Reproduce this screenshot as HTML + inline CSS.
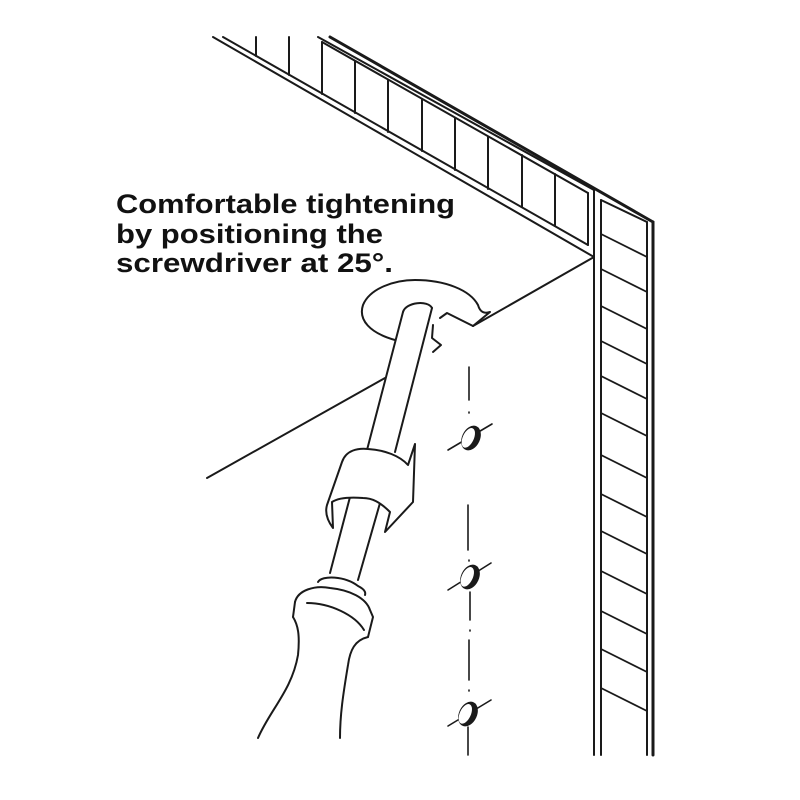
<!DOCTYPE html>
<html><head><style>body{margin:0;background:#fff}svg{display:block}</style></head>
<body>
<svg width="800" height="800" viewBox="0 0 800 800" xmlns="http://www.w3.org/2000/svg">
<rect width="800" height="800" fill="#fff"/>
<g fill="none" stroke="#1a1a1a" stroke-width="2" stroke-linejoin="round" stroke-linecap="round">
<line x1="330" y1="37" x2="653" y2="222" stroke-width="3"/>
<line x1="318" y1="37" x2="594" y2="190"/>
<line x1="223" y1="37" x2="588" y2="245"/>
<line x1="213" y1="37" x2="594" y2="257"/>
<line x1="322" y1="42" x2="588" y2="193"/>
<line x1="588" y1="193" x2="588" y2="245"/>
<line x1="256" y1="37" x2="256" y2="56"/>
<line x1="289" y1="37" x2="289" y2="75"/>
<line x1="322" y1="42" x2="322" y2="94"/>
<line x1="355" y1="61" x2="355" y2="113"/>
<line x1="388" y1="80" x2="388" y2="132"/>
<line x1="422" y1="99" x2="422" y2="151"/>
<line x1="455" y1="118" x2="455" y2="170"/>
<line x1="488" y1="137" x2="488" y2="189"/>
<line x1="522" y1="155" x2="522" y2="207"/>
<line x1="555" y1="174" x2="555" y2="226"/>
<line x1="594" y1="190" x2="594" y2="755"/>
<line x1="601" y1="200" x2="601" y2="755"/>
<line x1="601" y1="200" x2="647" y2="222"/>
<line x1="647" y1="222" x2="647" y2="755"/>
<line x1="653" y1="222" x2="653" y2="755" stroke-width="3"/>
<g stroke-width="1.8">
<line x1="601" y1="234" x2="647" y2="257"/>
<line x1="601" y1="269" x2="647" y2="292"/>
<line x1="601" y1="306" x2="647" y2="329"/>
<line x1="601" y1="341" x2="647" y2="364"/>
<line x1="601" y1="376" x2="647" y2="399"/>
<line x1="601" y1="413" x2="647" y2="436"/>
<line x1="601" y1="455" x2="647" y2="478"/>
<line x1="601" y1="494" x2="647" y2="517"/>
<line x1="601" y1="531" x2="647" y2="554"/>
<line x1="601" y1="571" x2="647" y2="594"/>
<line x1="601" y1="611" x2="647" y2="634"/>
<line x1="601" y1="649" x2="647" y2="672"/>
<line x1="601" y1="688" x2="647" y2="711"/>
</g>
<line x1="594" y1="257" x2="473" y2="326"/>
<path d="M473,326 L447,313 L440,318"/>
<path d="M395,340 C370,333 358,320 363,305 C370,288 395,280 415,280 C445,280 470,290 478,305 C480,312 484,314 490,312 L473,326"/>
<path d="M433,325 L432,338 L441,345 L433,352"/>
<line x1="207" y1="478" x2="385" y2="378"/>
<path d="M403,312 L367,450"/>
<path d="M432,308 L395,452"/>
<path d="M403,312 C406,302 428,300 432,308"/>
<path d="M350,497 L330,573"/>
<path d="M380,503 L358,580"/>
<path d="M342,462 C346,450 358,448 368,449 C385,450 400,456 408,465 L415,444 L413,502 L385,532 L390,512 C380,502 372,498 363,498 C350,497 338,498 332,502 L333,528 C327,520 325,512 327,505 Z" fill="#fff"/>
<path d="M318,582 C322,575 345,576 358,586 C364,589 366,592 365,595"/>
<path d="M295,602 C298,590 315,585 330,588 C350,590 366,598 370,610 L373,617 L368,637"/>
<path d="M293,617 L295,602"/>
<path d="M307,603 C330,603 355,615 364,630"/>
<path d="M293,617 C298,625 300,635 298,655 C292,690 270,710 258,738"/>
<path d="M368,637 C355,640 350,650 348,665 C343,695 340,715 340,738"/>
<g stroke-width="1.6">
<line x1="469" y1="367" x2="469" y2="400"/>
<line x1="469" y1="412" x2="469" y2="413"/>
<line x1="448" y1="450" x2="492" y2="424"/>
<line x1="468" y1="505" x2="468" y2="550"/>
<line x1="469" y1="560" x2="469" y2="561"/>
<line x1="448" y1="590" x2="491" y2="563"/>
<line x1="470" y1="592" x2="470" y2="620"/>
<line x1="470" y1="630" x2="470" y2="631"/>
<line x1="469" y1="640" x2="469" y2="680"/>
<line x1="469" y1="690" x2="469" y2="691"/>
<line x1="448" y1="726" x2="491" y2="700"/>
<line x1="468" y1="727" x2="468" y2="755"/>
</g>
</g>
<g stroke="#1a1a1a" stroke-width="2">
<g transform="translate(471 438) rotate(25)">
<ellipse cx="0" cy="0" rx="8" ry="12" fill="#1a1a1a"/>
<ellipse cx="-2.5" cy="1" rx="5.5" ry="10.5" fill="#fff" stroke="none"/>
</g>
<g transform="translate(470 577) rotate(25)">
<ellipse cx="0" cy="0" rx="8" ry="12" fill="#1a1a1a"/>
<ellipse cx="-2.5" cy="1" rx="5.5" ry="10.5" fill="#fff" stroke="none"/>
</g>
<g transform="translate(468 714) rotate(25)">
<ellipse cx="0" cy="0" rx="8" ry="12" fill="#1a1a1a"/>
<ellipse cx="-2.5" cy="1" rx="5.5" ry="10.5" fill="#fff" stroke="none"/>
</g>
</g>
<g font-family="Liberation Sans, Arial, sans-serif" font-weight="bold" font-size="27" fill="#111">
<text x="116" y="213" textLength="339" lengthAdjust="spacingAndGlyphs">Comfortable tightening</text>
<text x="116" y="243" textLength="267" lengthAdjust="spacingAndGlyphs">by positioning the</text>
<text x="116" y="272" textLength="277" lengthAdjust="spacingAndGlyphs">screwdriver at 25°.</text>
</g>
</svg>
</body></html>
